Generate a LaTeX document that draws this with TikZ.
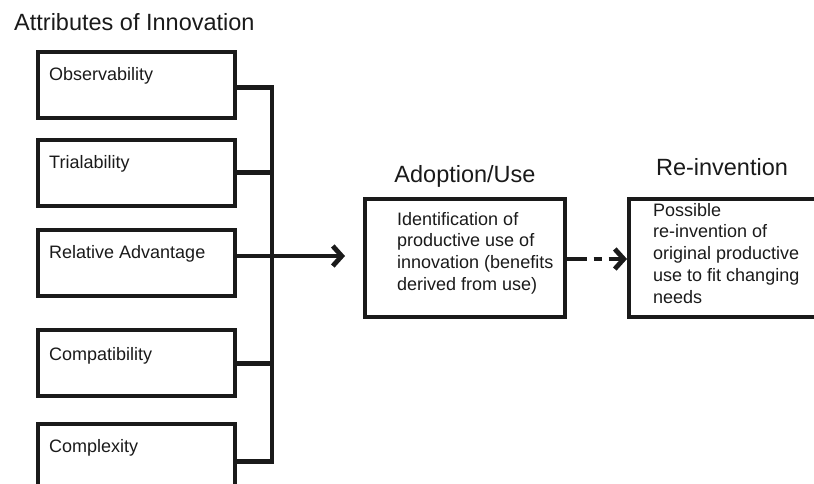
\documentclass[tikz,border=0pt]{standalone}
\usepackage{fontspec}
\setmainfont{Liberation Sans}
\usetikzlibrary{arrows.meta}
\definecolor{ink}{HTML}{1A1A1A}
\tikzset{
  attrbox/.style={draw=ink, line width=3.7pt, minimum width=197pt, minimum height=66pt,
                  inner sep=0pt, anchor=north west},
  bigbox/.style={draw=ink, line width=3.7pt, minimum height=118pt, inner sep=0pt, anchor=north west},
  attrtext/.style={anchor=west, inner sep=0pt, text=ink, font=\fontsize{18}{21.7}\selectfont},
  bodytext/.style={anchor=north west, inner sep=0pt, align=left, text=ink,
                   font=\fontsize{18}{21.7}\selectfont},
  heading/.style={anchor=base, inner sep=0pt, text=ink, font=\fontsize{23.5}{28}\selectfont},
  conn/.style={draw=ink, line width=4.8pt, line join=miter, line cap=butt},
  chevron/.style={-{Straight Barb[length=9pt,width=20pt]}}
}
\begin{document}
\begin{tikzpicture}[x=1pt,y=-1pt]
  \useasboundingbox (0,0) rectangle (814,483);
  \begin{scope}
    \clip (0,0) rectangle (814,483);

    % heading of the attribute column
    \node[heading, anchor=base west] (attrhead) at (14,30) {Attributes of Innovation};

    % five attribute boxes
    \node[attrbox] (obs) at (36,50)  {};
    \node[attrbox] (tri) at (36,138) {};
    \node[attrbox] (rel) at (36,228) {};
    \node[attrbox] (cmp) at (36,328) {};
    \node[attrbox] (cpx) at (36,422) {};
    \node[attrtext] (obsl) at ([shift={(13,26)}]obs.north west) {Observability};
    \node[attrtext] (tril) at ([shift={(13,26)}]tri.north west) {Trialability};
    \node[attrtext] (rell) at ([shift={(13,26)}]rel.north west) {Relative Advantage};
    \node[attrtext] (cmpl) at ([shift={(13,28)}]cmp.north west) {Compatibility};
    \node[attrtext] (cpxl) at ([shift={(13,26)}]cpx.north west) {Complexity};

    % adoption and re-invention stages
    \node[bigbox, minimum width=200pt] (adopt) at (363,197) {};
    \node[bigbox, minimum width=220pt] (reinv) at (627,197) {};
    \node[heading] (adopth) at (465,182) {Adoption/Use};
    \node[heading] (reinvh) at (722,175) {Re-invention};
    \node[bodytext] (adoptt) at (397,212) {Identification of\\productive use of\\innovation (benefits\\derived from use)};
    \node[bodytext] (reinvt) at (653,203) {Possible\\re-invention of\\original productive\\use to fit changing\\needs};

    % collecting bus
    \coordinate (bus) at (272,0);
    \draw[conn] ([yshift=-3pt]obs.east) -- ([yshift=-3pt]obs.east -| bus)
                -- ([yshift=-5pt]cpx.east -| bus) -- ([yshift=-5pt]cpx.east);
    \draw[conn] (tri.east) -- (tri.east -| bus);
    \draw[conn] ([yshift=-1pt]cmp.east) -- ([yshift=-1pt]cmp.east -| bus);
    \coordinate (tipin) at (345,256);
    \draw[conn, chevron] (rel.east |- tipin) -- (tipin);

    % dashed link to re-invention
    \coordinate (dstart) at (adopt.east |- 0,259);
    \draw[conn, chevron, dash pattern=on 20pt off 7pt on 8pt off 7pt on 60pt]
      (dstart) -- (reinv.west |- dstart);
  \end{scope}
\end{tikzpicture}
\end{document}
